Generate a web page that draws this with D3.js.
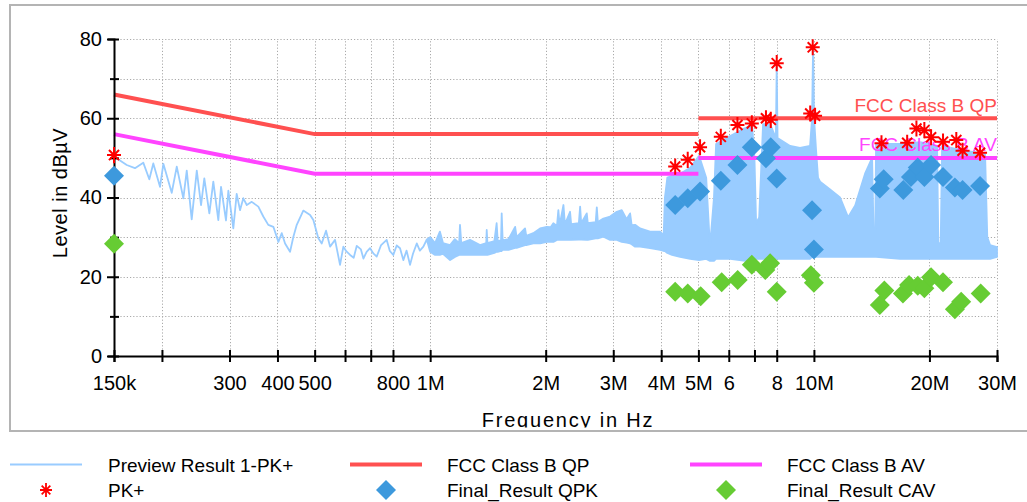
<!DOCTYPE html>
<html>
<head>
<meta charset="utf-8">
<script src="https://cdn.jsdelivr.net/npm/d3@7"></script>
<style>
  body { margin: 0; background: #fff; }
  svg { display: block; font-family: "Liberation Sans", Arial, sans-serif; }
</style>
</head>
<body>
<svg id="chart" width="1027" height="502"></svg>
<script>
// preview trace, low band: single line (MHz, dBµV)
const lineFreq = [0.150, 0.1524, 0.1619, 0.1701, 0.1788, 0.1854, 0.1899, 0.1977, 0.2017, 0.2121, 0.2186, 0.2274,
  0.2321, 0.2391, 0.2465, 0.2529, 0.2579, 0.2658, 0.2722, 0.2805, 0.2851, 0.2937, 0.2979, 0.3069, 0.3132, 0.3195,
  0.3259, 0.3327, 0.3428, 0.3566, 0.3674, 0.3786, 0.3903, 0.4022, 0.4105, 0.4187, 0.4314, 0.4401, 0.4491, 0.4671,
  0.4865, 0.4961, 0.5112, 0.5217, 0.5354, 0.5484, 0.5651, 0.5823, 0.5940, 0.605, 0.6185, 0.632, 0.6438, 0.66,
  0.6699, 0.683, 0.6972, 0.711, 0.7257, 0.745, 0.7704, 0.785, 0.8016, 0.818, 0.8346, 0.8513, 0.868, 0.8862, 0.902,
  0.9227, 0.94, 0.9600, 0.98];
const lineLevel = [50.5, 49.9, 48.2, 47.4, 48.8, 44.6, 48.6, 42.7, 48.5, 41.2, 47.8, 39.8,
  46.8, 34.5, 46.8, 38.1, 44.8, 36.0, 44.0, 34.3, 42.7, 34.2, 41.7, 32.2, 40.9, 36.8,
  39.8, 38.1, 38.9, 37.7, 35.2, 33.1, 32.6, 28.8, 31.0, 28.4, 26.3, 30.1, 33.1, 36.7,
  35.6, 34.3, 29.7, 28.4, 31.6, 27.6, 29.3, 23.0, 27.6, 26.4, 25.5, 24.8, 27.8, 26.9,
  24.6, 26.3, 27.2, 25.9, 25.1, 28.0, 29.3, 26.5, 25.5, 27.9, 27.2, 24.2, 26.6, 23.0, 25.8,
  28.4, 26.6, 27.6, 29.4];

// preview trace, 1 MHz to 30 MHz: dense band (max / min envelope)
const bandFreq = [1.00, 1.03, 1.06, 1.08, 1.127, 1.16, 1.19, 1.196, 1.205, 1.27, 1.349, 1.40, 1.404, 1.41, 1.47, 1.49,
  1.50, 1.53, 1.536, 1.545, 1.60, 1.665, 1.68, 1.767, 1.78, 1.857, 1.934, 2.013, 2.06, 2.094, 2.14, 2.158, 2.175,
  2.225, 2.245, 2.315, 2.33, 2.44, 2.459, 2.475, 2.559, 2.575, 2.70, 2.718, 2.735, 2.828, 2.943, 3.064, 3.157, 3.25,
  3.319, 3.35, 3.420, 3.524, 3.741, 3.973, 4.06,
  4.09, 4.15, 4.27, 4.48, 4.76, 5.02, 5.24, 5.36, 5.49, 5.56, 6.05, 6.62, 6.90, 7.00, 7.07, 7.20, 7.37, 7.69, 7.96,
  8.00, 8.04, 8.67, 9.20, 9.77, 9.89, 9.95, 10.01, 10.13, 10.25, 10.38, 11.02, 11.70, 12.28, 12.81, 13.59, 14.18,
  14.30, 14.45, 14.52, 16.77, 18.91, 20.94, 21.10, 21.40, 21.58, 24.05, 27.93, 28.30, 28.78, 30.00];
const bandMax = [30.0, 28.5, 31.4, 28.5, 28.0, 29.5, 28.5, 33.1, 28.5, 29.3, 28.0, 28.5, 31.8, 28.5, 29.0, 33.5,
  29.0, 29.2, 36.0, 29.2, 29.5, 32.6, 30.0, 32.2, 30.3, 31.0, 32.2, 32.6, 32.5, 33.5, 32.8, 36.8, 33.0,
  38.1, 33.2, 36.4, 33.3, 33.5, 37.7, 33.5, 36.0, 33.5, 33.8, 37.5, 33.8, 34.7, 35.2, 36.4, 36.8, 34.5,
  36.0, 33.0, 33.1, 32.2, 31.4, 31.4, 30.5,
  40.0, 45.0, 45.5, 46.0, 47.5, 50.5, 45.0, 27.6, 40.0, 53.5, 55.5, 57.5, 58.5, 50.0, 33.5, 35.0, 58.5, 58.5, 55.0,
  73.9, 55.0, 53.0, 52.5, 53.0, 60.0, 78.0, 60.0, 52.0, 45.0, 44.0, 42.0, 40.0, 35.0, 38.0, 46.0, 50.0,
  32.0, 32.0, 53.5, 53.5, 54.0, 53.0, 28.5, 28.5, 53.0, 52.0, 51.0, 30.0, 28.0, 27.5];
const bandMin = [26.3, 25.5, 25.5, 25.8, 24.2, 25.0, 25.5, 25.5, 25.5, 25.5, 25.5, 25.5, 25.5, 25.5, 26.0, 26.3,
  26.3, 26.5, 26.5, 26.8, 26.8, 27.3, 27.3, 28.0, 28.0, 28.4, 28.4, 28.8, 28.8, 28.8, 29.3, 29.3, 29.3,
  29.3, 29.3, 29.3, 29.3, 29.4, 29.4, 29.4, 29.3, 29.3, 29.7, 29.7, 29.7, 30.1, 29.3, 29.3, 28.8, 28.6,
  28.4, 28.2, 27.6, 27.6, 27.2, 26.8, 26.5,
  26.5, 26.0, 25.5, 25.0, 24.5, 24.2, 24.5, 24.0, 24.0, 24.5, 24.5, 24.0, 24.5, 24.5, 24.5, 24.5, 24.5, 24.5, 24.5,
  24.5, 24.5, 24.5, 24.5, 24.5, 25.0, 25.0, 25.0, 25.0, 25.0, 25.0, 25.0, 25.0, 25.0, 25.0, 25.0, 25.0,
  25.0, 25.0, 25.0, 24.5, 24.5, 24.5, 24.5, 24.5, 24.5, 24.5, 24.5, 24.5, 24.5, 25.0];

// limit lines (two segments each, split at index 3)
const limitFreq = [0.15, 0.5, 5, 5, 30];
const qpLevel = [66, 56, 56, 60, 60];
const avLevel = [56, 46, 46, 50, 50];

// final measurement results
const pkFreq = [0.15, 4.35, 4.69, 5.05, 5.72, 6.32, 6.89, 7.5, 7.72, 8.0, 9.78, 9.93, 10.07, 15.0, 17.5, 18.5, 19.4,
  20.2, 21.7, 23.5, 24.4, 27.1];
const pkLevel = [50.7, 47.8, 49.5, 52.7, 55.3, 58.3, 58.7, 60.0, 59.6, 73.9, 61.2, 77.9, 60.6, 53.7, 53.8, 57.4, 57.0,
  55.2, 54.1, 54.5, 51.8, 51.3];
const qpkFreq = [0.15, 4.35, 4.69, 5.05, 5.72, 6.32, 6.89, 7.5, 7.72, 8.0, 9.89, 10.0, 14.85, 15.2, 17.1, 17.9, 18.65,
  19.4, 20.2, 21.7, 23.3, 24.4, 27.1];
const qpkLevel = [45.5, 38.1, 39.8, 41.5, 44.2, 48.2, 52.7, 49.9, 52.7, 44.8, 36.8, 26.9, 42.3, 44.6, 41.9, 45.2, 47.6,
  45.2, 48.2, 45.2, 42.5, 41.9, 42.9];
const cavFreq = [0.15, 4.35, 4.69, 5.07, 5.75, 6.33, 6.89, 7.47, 7.69, 8.0, 9.82, 10.0, 14.85, 15.26, 17.06, 17.7, 18.65,
  19.4, 20.2, 21.7, 23.3, 24.2, 27.2];
const cavLevel = [28.3, 16.2, 15.8, 15.1, 18.6, 19.2, 23.0, 21.7, 23.4, 16.2, 20.4, 18.5, 12.9, 16.5, 15.8, 17.9, 17.7,
  17.1, 19.9, 18.6, 11.8, 13.7, 15.8];

// axes
const xTickValues = [0.15, 0.2, 0.3, 0.4, 0.5, 0.6, 0.7, 0.8, 1, 2, 3, 4, 5, 6, 7, 8, 10, 20, 30];
const xTickLabels = ["150k", "", "300", "400", "500", "", "", "800", "1M", "2M", "3M", "4M", "5M", "6", "", "8", "10M", "20M", "30M"];
const yTickValues = [0, 10, 20, 30, 40, 50, 60, 70, 80];
const yTickLabels = ["0", "", "20", "", "40", "", "60", "", "80"];

const legendLabels = ["Preview Result 1-PK+", "FCC Class B QP", "FCC Class B AV", "PK+", "Final_Result QPK", "Final_Result CAV"];

const colors = {
    preview: "#99ccff", qp: "#ff5050", av: "#ff44ff",
    pk: "#ff0000", qpk: "#3d99dd", cav: "#66cc33"
};

const plot = { left: 114, right: 997, top: 39, bottom: 356 };

const svg = d3.select("#chart");

const x = d3.scaleLog().domain([0.15, 30]).range([plot.left, plot.right]);
const y = d3.scaleLinear().domain([0, 80]).range([plot.bottom, plot.top]);

// frame
svg.append("rect")
    .attr("x", 10).attr("y", 5)
    .attr("width", 1040).attr("height", 426)
    .attr("fill", "none")
    .attr("stroke", "#b4b4b4")
    .attr("stroke-width", 2);

// grid
const grid = svg.append("g")
    .attr("stroke", "#aaaaaa")
    .attr("stroke-width", 1)
    .attr("stroke-dasharray", "1.2,2");

grid.selectAll(".vgrid")
    .data(xTickValues.slice(1))
    .enter().append("line")
    .attr("x1", d => Math.round(x(d)) + 0.5)
    .attr("x2", d => Math.round(x(d)) + 0.5)
    .attr("y1", y(0))
    .attr("y2", y(80));

grid.selectAll(".hgrid")
    .data(yTickValues.slice(1))
    .enter().append("line")
    .attr("x1", x(0.15))
    .attr("x2", x(30))
    .attr("y1", d => Math.round(y(d)) + 0.5)
    .attr("y2", d => Math.round(y(d)) + 0.5);

// preview trace
const preview = lineFreq.map((f, i) => ({ f: f, hi: lineLevel[i], lo: lineLevel[i] }))
    .concat(bandFreq.map((f, i) => ({ f: f, hi: bandMax[i], lo: bandMin[i] })));

const area = d3.area()
    .x(d => x(d.f))
    .y0(d => y(d.lo))
    .y1(d => y(d.hi));

svg.append("path")
    .datum(preview)
    .attr("d", area)
    .attr("fill", colors.preview)
    .attr("stroke", colors.preview)
    .attr("stroke-width", 1.8)
    .attr("stroke-linejoin", "round");

// limit lines
const limitLine = d3.line().x(d => x(d[0])).y(d => y(d[1]));

function drawLimit(levels, color) {
    const pts = limitFreq.map((f, i) => [f, levels[i]]);
    [pts.slice(0, 3), pts.slice(3)].forEach(seg => {
        svg.append("path")
            .datum(seg)
            .attr("d", limitLine)
            .attr("fill", "none")
            .attr("stroke", color)
            .attr("stroke-width", 4);
    });
}
drawLimit(qpLevel, colors.qp);
drawLimit(avLevel, colors.av);

svg.append("text")
    .attr("x", x(30)).attr("y", y(qpLevel[4]) - 6.5)
    .attr("text-anchor", "end")
    .attr("font-size", 19)
    .attr("fill", colors.qp)
    .text(legendLabels[1]);

svg.append("text")
    .attr("x", x(30)).attr("y", y(avLevel[4]) - 6.5)
    .attr("text-anchor", "end")
    .attr("font-size", 19)
    .attr("fill", colors.av)
    .text(legendLabels[2]);

// axes
const xAxis = d3.axisBottom(x)
    .tickValues(xTickValues)
    .tickFormat((d, i) => xTickLabels[i])
    .tickSizeOuter(0)
    .tickSize(6);

const gx = svg.append("g")
    .attr("transform", `translate(0, ${plot.bottom})`)
    .call(xAxis);

gx.select(".domain").attr("stroke", "#000").attr("stroke-width", 2);
gx.selectAll(".tick line").attr("y1", -6).attr("y2", 6).attr("stroke", "#000").attr("stroke-width", 2);
gx.selectAll(".tick text")
    .attr("y", 34).attr("dy", 0)
    .attr("font-size", 20)
    .attr("font-family", "Liberation Sans, Arial, sans-serif")
    .attr("fill", "#000");

const yAxis = d3.axisLeft(y)
    .tickValues(yTickValues)
    .tickFormat((d, i) => yTickLabels[i])
    .tickSizeOuter(0)
    .tickSize(6);

const gy = svg.append("g")
    .attr("transform", `translate(${plot.left}, 0)`)
    .call(yAxis);

gy.select(".domain").attr("stroke", "#000").attr("stroke-width", 2);
gy.selectAll(".tick line")
    .attr("x1", (d, i) => yTickLabels[i] ? -7 : -4)
    .attr("x2", 5)
    .attr("stroke", "#000").attr("stroke-width", 2);
gy.selectAll(".tick text")
    .attr("x", -12)
    .attr("font-size", 20)
    .attr("font-family", "Liberation Sans, Arial, sans-serif")
    .attr("fill", "#000");

// axis titles
svg.append("text")
    .attr("transform", "translate(67, 193) rotate(-90)")
    .attr("text-anchor", "middle")
    .attr("font-size", 20)
    .attr("letter-spacing", 0.5)
    .text("Level in dBµV");

svg.append("clipPath")
    .attr("id", "xtitle-clip")
    .append("rect")
    .attr("x", 0).attr("y", 0).attr("width", 1027).attr("height", 427.5);

svg.append("text")
    .attr("clip-path", "url(#xtitle-clip)")
    .attr("x", 568).attr("y", 426.5)
    .attr("text-anchor", "middle")
    .attr("font-size", 20)
    .attr("letter-spacing", 1.8)
    .text("Frequency in Hz");

// markers
const diamond = d3.symbol().type(d3.symbolSquare).size(200);

function asterisk(r) {
    const d = r * 0.72;
    const v = r * 1.15;
    return `M${-r},0H${r}M0,${-v}V${v}M${-d},${-d}L${d},${d}M${-d},${d}L${d},${-d}`;
}

svg.selectAll(".cav")
    .data(cavFreq.map((f, i) => [f, cavLevel[i]]))
    .enter().append("path")
    .attr("class", "cav")
    .attr("d", diamond)
    .attr("transform", d => `translate(${x(d[0])}, ${y(d[1])}) rotate(45)`)
    .attr("fill", colors.cav);

svg.selectAll(".qpk")
    .data(qpkFreq.map((f, i) => [f, qpkLevel[i]]))
    .enter().append("path")
    .attr("class", "qpk")
    .attr("d", diamond)
    .attr("transform", d => `translate(${x(d[0])}, ${y(d[1])}) rotate(45)`)
    .attr("fill", colors.qpk);

svg.selectAll(".pk")
    .data(pkFreq.map((f, i) => [f, pkLevel[i]]))
    .enter().append("path")
    .attr("class", "pk")
    .attr("d", asterisk(7))
    .attr("transform", d => `translate(${x(d[0])}, ${y(d[1])})`)
    .attr("fill", "none")
    .attr("stroke", colors.pk)
    .attr("stroke-width", 2);

// legend
const legendCols = [46, 386, 726];
const legendTextX = [108, 447, 787];
const legendRows = [464.5, 490];
const legend = svg.append("g").attr("font-size", 19);

legendLabels.forEach((label, i) => {
    const col = i % 3, row = Math.floor(i / 3);
    legend.append("text")
        .attr("x", legendTextX[col])
        .attr("y", legendRows[row] + 7)
        .text(label);
});

legend.append("line")
    .attr("x1", legendCols[0] - 36).attr("x2", legendCols[0] + 36)
    .attr("y1", legendRows[0]).attr("y2", legendRows[0])
    .attr("stroke", colors.preview).attr("stroke-width", 2);
legend.append("line")
    .attr("x1", legendCols[1] - 36).attr("x2", legendCols[1] + 36)
    .attr("y1", legendRows[0]).attr("y2", legendRows[0])
    .attr("stroke", colors.qp).attr("stroke-width", 4);
legend.append("line")
    .attr("x1", legendCols[2] - 36).attr("x2", legendCols[2] + 36)
    .attr("y1", legendRows[0]).attr("y2", legendRows[0])
    .attr("stroke", colors.av).attr("stroke-width", 4);
legend.append("path")
    .attr("d", asterisk(6))
    .attr("transform", `translate(${legendCols[0]}, ${legendRows[1]})`)
    .attr("fill", "none").attr("stroke", colors.pk).attr("stroke-width", 1.8);
legend.append("path")
    .attr("d", diamond)
    .attr("transform", `translate(${legendCols[1]}, ${legendRows[1]}) rotate(45)`)
    .attr("fill", colors.qpk);
legend.append("path")
    .attr("d", diamond)
    .attr("transform", `translate(${legendCols[2]}, ${legendRows[1]}) rotate(45)`)
    .attr("fill", colors.cav);
</script>
</body>
</html>
